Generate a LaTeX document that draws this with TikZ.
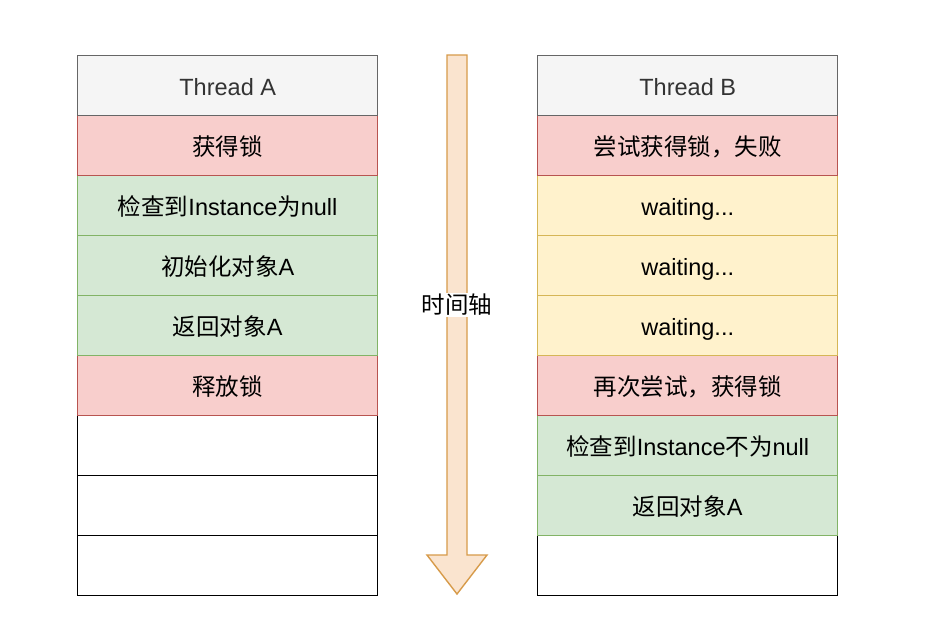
\documentclass[tikz,border=0pt]{standalone}
\usepackage{fontspec}
\setmainfont{Liberation Sans}
\newfontfamily\cjk{Noto Sans CJK SC}
\newcommand{\zh}[1]{{\cjk #1}}
\definecolor{grayF}{HTML}{F5F5F5}\definecolor{grayD}{HTML}{666666}
\definecolor{redF}{HTML}{F8CECC}\definecolor{redD}{HTML}{B85450}
\definecolor{grnF}{HTML}{D5E8D4}\definecolor{grnD}{HTML}{82B366}
\definecolor{yelF}{HTML}{FFF2CC}\definecolor{yelD}{HTML}{D6B656}
\definecolor{orgF}{HTML}{FAE4CF}\definecolor{orgD}{HTML}{D79B4A}
\definecolor{txtG}{HTML}{333333}
\begin{document}
\begin{tikzpicture}[x=1pt,y=-1pt,
  cell/.style={draw,rectangle,minimum width=300pt,minimum height=60pt,inner sep=0pt,text height=24pt,text depth=5pt,anchor=north west,line width=1.4pt,font=\fontsize{23.5}{28}\selectfont},
  hdr/.style={cell,fill=grayF,draw=grayD,text=txtG},
  redc/.style={cell,fill=redF,draw=redD},
  grnc/.style={cell,fill=grnF,draw=grnD},
  yelc/.style={cell,fill=yelF,draw=yelD},
  emp/.style={cell,fill=white,draw=black},
  lbl/.style={fill=white,inner sep=1pt,font=\fontsize{23.5}{28}\selectfont}]
\fill[white] (0,0) rectangle (928,638);
\useasboundingbox (0,0) rectangle (928,638);
% arrow
\draw[fill=orgF,draw=orgD,line width=1.4pt,line join=miter]
  (447,55) -- (467,55) -- (467,555) -- (487,555) -- (457,594) -- (427,555) -- (447,555) -- cycle;
\node[lbl] (axis) at (457,305) {\zh{时间轴}};
% left column
\node[emp] (a9) at (77,535) {};
\node[emp] (a8) at (77,475) {};
\node[emp] (a7) at (77,415) {};
\node[redc] (a6) at (77,355) {\zh{释放锁}};
\node[grnc] (a5) at (77,295) {\zh{返回对象}A};
\node[grnc] (a4) at (77,235) {\zh{初始化对象}A};
\node[grnc] (a3) at (77,175) {\zh{检查到}Instance\zh{为}null};
\node[redc] (a2) at (77,115) {\zh{获得锁}};
\node[hdr] (a1) at (77,55) {Thread A};
% right column
\node[emp] (b9) at (537,535) {};
\node[grnc] (b8) at (537,475) {\zh{返回对象}A};
\node[grnc] (b7) at (537,415) {\zh{检查到}Instance\zh{不为}null};
\node[redc] (b6) at (537,355) {\zh{再次尝试，获得锁}};
\node[yelc] (b5) at (537,295) {waiting...};
\node[yelc] (b4) at (537,235) {waiting...};
\node[yelc] (b3) at (537,175) {waiting...};
\node[redc] (b2) at (537,115) {\zh{尝试获得锁，失败}};
\node[hdr] (b1) at (537,55) {Thread B};
\end{tikzpicture}
\end{document}
